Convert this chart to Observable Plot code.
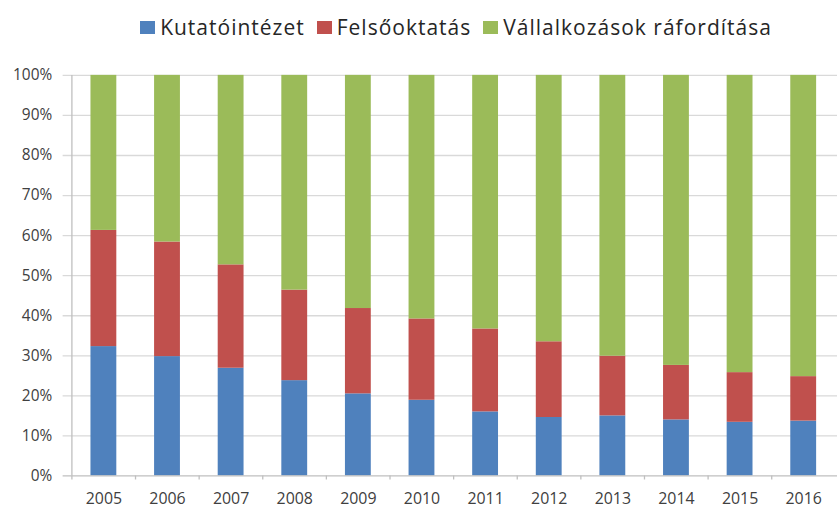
<!DOCTYPE html>
<html><head><meta charset="utf-8">
<script src="https://cdn.jsdelivr.net/npm/d3@7"></script>
<script src="https://cdn.jsdelivr.net/npm/@observablehq/plot@0.6"></script>
<style>
html,body{margin:0;padding:0;background:#fff;overflow:hidden;width:837px;height:509px}
#legend{height:54px;width:772px;margin-left:70px;display:flex;justify-content:center;align-items:center;font-family:"Open Sans",sans-serif;font-size:21px;letter-spacing:1px;color:#262626}
#legend .item{display:flex;align-items:center;margin:0 6px}
#legend .sw{width:15px;height:13px;margin-right:5px}
#chart svg{display:block;overflow:visible}
</style></head><body>
<div id="legend"></div><div id="chart"></div>
<script>
const years = ["2005","2006","2007","2008","2009","2010","2011","2012","2013","2014","2015","2016"];
const series = ["Kutatóintézet","Felsőoktatás","Vállalkozások ráfordítása"];
const colors = ["#4F81BD","#C0504D","#9BBB59"];
const kutato = [32.3,29.8,26.9,23.8,20.5,18.9,16.0,14.6,15.0,14.0,13.4,13.7];
const felso  = [29.0,28.6,25.8,22.6,21.3,20.3,20.7,18.9,14.9,13.6,12.4,11.1];
const vallalk= [38.7,41.6,47.3,53.6,58.2,60.8,63.3,66.5,70.1,72.4,74.2,75.2];
const yTicks = [0,10,20,30,40,50,60,70,80,90,100];

const data = [];
[kutato, felso, vallalk].forEach((arr, si) => arr.forEach((v, i) => data.push({year: years[i], series: series[si], value: v})));

const legend = document.getElementById("legend");
series.forEach((s, i) => {
  const it = document.createElement("div"); it.className = "item";
  const sw = document.createElement("div"); sw.className = "sw"; sw.style.background = colors[i];
  const t = document.createElement("span"); t.textContent = s;
  it.appendChild(sw); it.appendChild(t); legend.appendChild(it);
});

const W = 842, ML = 70, MR = 0;
const step = (W - ML - MR) / years.length;
const font = "'Open Sans', sans-serif";

const chart = Plot.plot({
  width: W, height: 455,
  marginLeft: ML, marginRight: MR, marginTop: 21, marginBottom: 31,
  style: {fontFamily: font, fontSize: "15px", color: "#404040", background: "#fff"},
  x: {domain: years, paddingInner: 0.6, paddingOuter: 0.3, label: null},
  y: {domain: [0, 100], label: null},
  color: {domain: series, range: colors},
  marks: [
    Plot.ruleY(yTicks.filter(d => d > 0), {stroke: "#d9d9d9", strokeWidth: 1.3, insetLeft: -7}),
    Plot.barY(data, {x: "year", y: "value", fill: "series"}),
    Plot.ruleY([0], {stroke: "#bfbfbf", strokeWidth: 1.3, insetLeft: -7}),
    Plot.ruleX([years[0]], {dx: -step / 2, y1: 0, y2: 100, stroke: "#bfbfbf", strokeWidth: 1.3}),
    Plot.ruleX(years, {dx: -step / 2, y1: -1.0, y2: 0, stroke: "#bfbfbf", strokeWidth: 1.3}),
    Plot.axisY({ticks: yTicks, tickFormat: d => d + "%", tickSize: 0, tickPadding: 18, fontSize: 15.5, fill: "#404040"}),
    Plot.axisX({tickSize: 0, tickPadding: 17, fontSize: 16, fill: "#404040"})
  ]
});
document.getElementById("chart").appendChild(chart);
</script>
</body></html>
